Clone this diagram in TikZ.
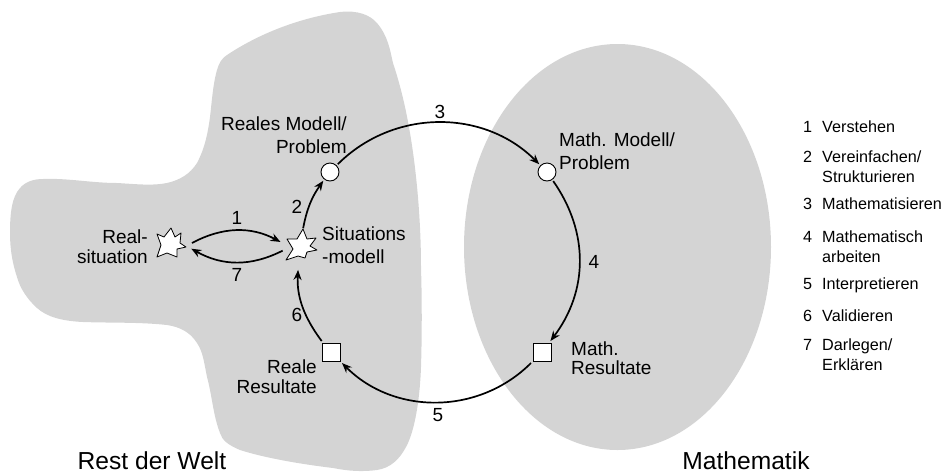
\documentclass[tikz,border=0pt]{standalone}
\usepackage{fontspec}
\setmainfont{Liberation Sans}
\usetikzlibrary{arrows.meta}
\definecolor{blobgray}{RGB}{212,212,212}
\tikzset{
  blob/.style={fill=blobgray,draw=none},
  marker/.style={circle,draw,fill=white,line width=0.9pt,minimum size=18pt,inner sep=0pt,outer sep=2pt},
  markbox/.style={rectangle,draw,fill=white,line width=0.9pt,minimum size=18pt,inner sep=0pt,outer sep=2pt},
  spot/.style={circle,inner sep=0pt,outer sep=0pt},
  starline/.style={fill=white,line width=0.8pt,line join=round},
  cycle/.style={line width=1.7pt,-{Stealth[length=10pt,width=8pt]}},
  lab/.style={font=\fontsize{19}{19.5}\selectfont,align=center,inner sep=0pt},
  legend/.style={font=\fontsize{16.2}{20}\selectfont,align=left,anchor=west,inner sep=0pt},
  title/.style={font=\fontsize{24.6}{28}\selectfont,inner sep=0pt}
}
\begin{document}
\begin{tikzpicture}[x=1pt,y=-1pt]
    \useasboundingbox (0,0) rectangle (946,475);

    % grey areas
    \fill[blob] (340,12) .. controls (358,10) and (370,15) .. (377,23)
        .. controls (388,36) and (390,50) .. (393,63)
        .. controls (402,90) and (407,115) .. (410,133)
        .. controls (418,180) and (421,230) .. (421,267)
        .. controls (422,300) and (422,335) .. (421,367)
        .. controls (420,395) and (416,425) .. (408,443)
        .. controls (400,460) and (390,468) .. (377,470)
        .. controls (362,472) and (348,471) .. (333,468)
        .. controls (300,464) and (265,458) .. (240,450)
        .. controls (228,445) and (222,440) .. (220,433)
        .. controls (213,415) and (212,395) .. (207,377)
        .. controls (204,362) and (203,352) .. (197,343)
        .. controls (190,332) and (180,327) .. (167,325)
        .. controls (140,322) and (110,323) .. (83,322)
        .. controls (62,321) and (47,317) .. (37,308)
        .. controls (27,299) and (20,288) .. (17,277)
        .. controls (12,262) and (10,248) .. (10,233)
        .. controls (10,212) and (12,197) .. (20,188)
        .. controls (26,181) and (35,179) .. (43,179)
        .. controls (68,178) and (92,183) .. (117,183)
        .. controls (135,184) and (152,186) .. (167,183)
        .. controls (180,180) and (190,174) .. (197,163)
        .. controls (205,148) and (208,132) .. (210,117)
        .. controls (212,100) and (213,84) .. (217,70)
        .. controls (219,63) and (222,58) .. (227,55)
        .. controls (260,33) and (300,18) .. (340,12) -- cycle;
    \fill[blob] (617.5,247) ellipse [x radius=153.5, y radius=203];

    % nodes
    \node[spot,minimum size=44pt] (real) at (170,243) {};
    \node[spot,minimum size=36pt] (sit) at (300,246) {};
    \draw[starline,shift={(real.center)}] (-13,-9) -- (-6,-6) -- (1,-15) -- (5,-6) -- (11,-10) -- (10,0)
        -- (16,4) -- (7,6) -- (7,14) -- (-3,10) -- (-13,14) -- (-9,2) -- cycle;
    \draw[starline,shift={(sit.center)}] (-13,-7) -- (-3,-7) -- (3,-17) -- (7,-7) -- (16,-8) -- (10,0)
        -- (17,4) -- (7,6) -- (5,12) -- (-2,10) -- (-14,14) -- (-7,3) -- cycle;
    \node[marker] (remod) at (330,172) {};
    \node[marker] (mamod) at (547,172) {};
    \node[markbox] (mares) at (542,352) {};
    \node[markbox] (reres) at (331,352) {};

    % arrows
    \draw[cycle,shorten >=2pt] (real.0) to[bend left=28] (sit.170);
    \draw[cycle] (sit.195) to[bend left=28] (real.345);
    \draw[cycle] (sit.80) to[bend left=12] (remod);
    \draw[cycle] (remod) to[bend left=45] (mamod);
    \draw[cycle] (mamod) to[bend left=36] (mares);
    \draw[cycle] (mares) to[bend left=45] (reres);
    \draw[cycle,shorten >=6pt] (reres) to[bend left=20] (sit.265);

    % labels
    \node[lab] (n1) at (237,218) {1};
    \node[lab] (n7) at (237,275) {7};
    \node[lab] (n2) at (297,207) {2};
    \node[lab] (n3) at (440,112) {3};
    \node[lab] (n4) at (594,262) {4};
    \node[lab] (n5) at (438,415) {5};
    \node[lab] (n6) at (297,315) {6};
    \node[lab,align=right,anchor=east] (t1) at (148,246.5) {Real-\\situation};
    \node[lab,align=left,anchor=west] (t2) at (322,245) {Situations\\[4pt]-modell};
    \node[lab,align=right,anchor=east] (t3) at (347,135.5) {Reales Modell/\\[3.5pt]Problem};
    \node[lab,align=left,anchor=west] (t4) at (559,151) {Math. Modell/\\[4pt]Problem};
    \node[lab,align=left,anchor=west] (t5) at (571,358) {Math.\\Resultate};
    \node[lab,align=right,anchor=east] (t6) at (317,376.5) {Reale\\Resultate};
    \node[title] (w1) at (152,461) {Rest der Welt};
    \node[title] (w2) at (746,461) {Mathematik};

    % legend
    \node[legend] (s1) at (803,127) {1\hspace{10pt}Verstehen};
    \node[legend] (s2) at (803,166.5) {2\hspace{10pt}Vereinfachen/\\\hspace{19pt}Strukturieren};
    \node[legend] (s3) at (803,204) {3\hspace{10pt}Mathematisieren};
    \node[legend] (s4) at (803,247) {4\hspace{10pt}Mathematisch\\\hspace{19pt}arbeiten};
    \node[legend] (s5) at (803,285) {5\hspace{10pt}Interpretieren};
    \node[legend] (s6) at (803,316) {6\hspace{10pt}Validieren};
    \node[legend] (s7) at (803,355) {7\hspace{10pt}Darlegen/\\\hspace{19pt}Erklären};
\end{tikzpicture}
\end{document}
